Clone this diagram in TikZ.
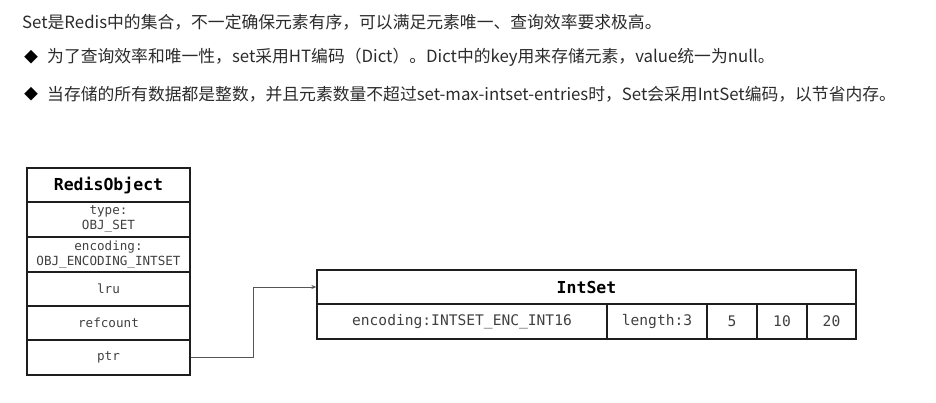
\documentclass[tikz,border=0pt]{standalone}
\usepackage{fontspec}
\setmainfont{Noto Sans CJK SC}
\setmonofont{DejaVu Sans Mono}
\usetikzlibrary{arrows.meta}
\definecolor{txt}{HTML}{2B2B2B}
\definecolor{celltxt}{HTML}{404040}
\definecolor{edge}{HTML}{1E1E1E}
\definecolor{wire}{HTML}{555555}
\begin{document}
\begin{tikzpicture}[x=1pt,y=-1pt,
  para/.style={anchor=west,inner sep=0pt,text=txt,font=\fontsize{16.8}{20}\selectfont},
  bullet/.style={inner sep=0pt,text=black,font=\fontsize{14}{16}\selectfont},
  cell/.style={draw=edge,line width=1.3pt,rectangle,inner sep=0pt,align=center,text=celltxt},
  title/.style={cell,text=black,font=\ttfamily\bfseries\fontsize{16.5}{18}\selectfont},
  small/.style={cell,font=\ttfamily\fontsize{12.6}{15}\selectfont},
  mid/.style={cell,font=\ttfamily\fontsize{14.6}{16}\selectfont},
  wirestyle/.style={draw=wire,line width=0.8pt,-{Stealth[length=5pt,width=4pt]}}
]
\useasboundingbox (0,0) rectangle (936,402);

% description text
\node[para] (l1) at (22,22) {Set是Redis中的集合，不一定确保元素有序，可以满足元素唯一、查询效率要求极高。};
\node[bullet] (b2) at (31,57) {◆};
\node[para] (l2) at (47,57) {为了查询效率和唯一性，set采用HT编码（Dict）。Dict中的key用来存储元素，value统一为null。};
\node[bullet] (b3) at (31,94) {◆};
\node[para] (l3) at (47,94) {当存储的所有数据都是整数，并且元素数量不超过set-max-intset-entries时，Set会采用IntSet编码，以节省内存。};

% RedisObject
\node[title,minimum width=163pt,minimum height=34pt] (rtitle) at (108.5,185) {RedisObject};
\node[small,minimum width=163pt,minimum height=35pt] (rtype) at (108.5,219.5) {type:\\OBJ\_SET};
\node[small,minimum width=163pt,minimum height=35pt] (renc) at (108.5,254.5) {encoding:\\OBJ\_ENCODING\_INTSET};
\node[small,minimum width=163pt,minimum height=34pt] (rlru) at (108.5,289) {lru};
\node[small,minimum width=163pt,minimum height=34pt] (rref) at (108.5,323) {refcount};
\node[small,minimum width=163pt,minimum height=35pt] (rptr) at (108.5,357.5) {ptr};

% IntSet
\node[title,minimum width=539pt,minimum height=34pt] (ititle) at (586.5,287) {IntSet};
\node[mid,minimum width=290pt,minimum height=35pt] (ienc) at (462,321.5) {encoding:INTSET\_ENC\_INT16};
\node[mid,minimum width=100pt,minimum height=35pt] (ilen) at (657,321.5) {length:3};
\node[mid,minimum width=50pt,minimum height=35pt] (i5) at (732,321.5) {5};
\node[mid,minimum width=50pt,minimum height=35pt] (i10) at (782,321.5) {10};
\node[mid,minimum width=49pt,minimum height=35pt] (i20) at (831.5,321.5) {20};

% pointer
\draw[wirestyle] (rptr.east) -- ++(63,0) |- (ititle.west);
\end{tikzpicture}
\end{document}
